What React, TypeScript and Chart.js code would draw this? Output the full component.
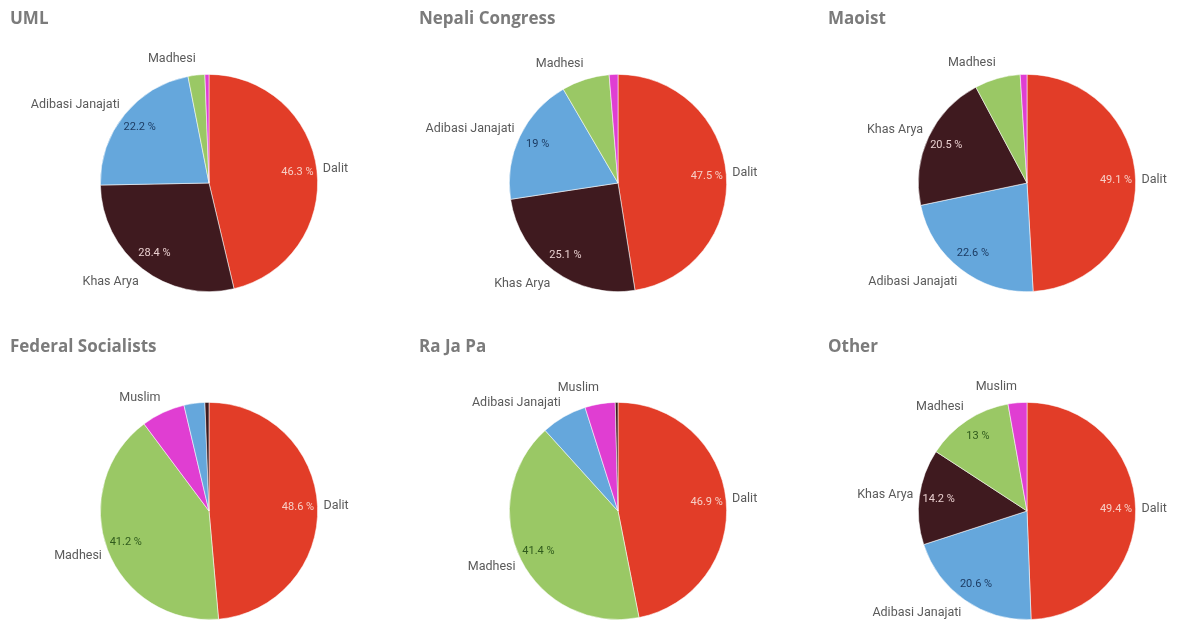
import React, { useEffect, useRef } from "react";
import { Chart, registerables } from "chart.js";

Chart.register(...registerables);

// ---- data ----
const partyTitles = ["UML", "Nepali Congress", "Maoist", "Federal Socialists", "Ra Ja Pa", "Other"];

const umlGroups = ["Dalit", "Khas Arya", "Adibasi Janajati", "Madhesi", "Muslim"];
const umlValues = [46.3, 28.4, 22.2, 2.5, 0.6];

const ncGroups = ["Dalit", "Khas Arya", "Adibasi Janajati", "Madhesi", "Muslim"];
const ncValues = [47.5, 25.1, 19, 7.1, 1.3];

const maoistGroups = ["Dalit", "Adibasi Janajati", "Khas Arya", "Madhesi", "Muslim"];
const maoistValues = [49.1, 22.6, 20.5, 6.8, 1.0];

const fsGroups = ["Dalit", "Madhesi", "Muslim", "Adibasi Janajati", "Khas Arya"];
const fsValues = [48.6, 41.2, 6.5, 3.1, 0.6];

const rjpGroups = ["Dalit", "Madhesi", "Adibasi Janajati", "Muslim", "Khas Arya"];
const rjpValues = [46.9, 41.4, 6.8, 4.5, 0.4];

const otherGroups = ["Dalit", "Adibasi Janajati", "Khas Arya", "Madhesi", "Muslim"];
const otherValues = [49.4, 20.6, 14.2, 13, 2.8];

const groupColors: Record<string, string> = {
  Dalit: "#e23d28",
  "Khas Arya": "#3f1a1f",
  "Adibasi Janajati": "#65a7dc",
  Madhesi: "#9ac865",
  Muslim: "#e03ed2",
};
const pctTextColors: Record<string, string> = {
  Dalit: "#f7cfc6",
  "Khas Arya": "#e9cfcf",
  "Adibasi Janajati": "#1d3c63",
  Madhesi: "#2f5a1c",
  Muslim: "#ffffff",
};

const panels = [
  { groups: umlGroups, values: umlValues },
  { groups: ncGroups, values: ncValues },
  { groups: maoistGroups, values: maoistValues },
  { groups: fsGroups, values: fsValues },
  { groups: rjpGroups, values: rjpValues },
  { groups: otherGroups, values: otherValues },
];

const PANEL_W = 409;
const PANEL_H = 310;
const ROW_STEP = 328;

const labelPlugin = {
  id: "pieLabels",
  afterDatasetsDraw(chart: any) {
    const ctx = chart.ctx as CanvasRenderingContext2D;
    const meta = chart.getDatasetMeta(0);
    const ds = chart.data.datasets[0];
    const labels = chart.data.labels as string[];
    const total = (ds.data as number[]).reduce((a, b) => a + b, 0);
    const placed: { x1: number; x2: number; y1: number; y2: number }[] = [];
    ctx.save();
    ctx.textBaseline = "middle";
    meta.data.forEach((arc: any, i: number) => {
      const p = arc.getProps(["x", "y", "startAngle", "endAngle", "outerRadius"], true);
      const mid = (p.startAngle + p.endAngle) / 2;
      const c = Math.cos(mid);
      const s = Math.sin(mid);
      const r = p.outerRadius;
      const v = ds.data[i] as number;
      const name = labels[i];
      // outside category label
      ctx.font = '12.5px Roboto, "Liberation Sans", sans-serif';
      const w = ctx.measureText(name).width;
      const ax = p.x + c * (r + 6);
      const ay = p.y + s * (r + 16);
      const left = c >= 0;
      const box = {
        x1: left ? ax : ax - w,
        x2: left ? ax + w : ax,
        y1: ay - 6.5,
        y2: ay + 6.5,
      };
      const hit = placed.some(
        (b) => box.x1 < b.x2 && box.x2 > b.x1 && box.y1 < b.y2 && box.y2 > b.y1
      );
      if (!hit) {
        placed.push(box);
        ctx.fillStyle = "#5a5a5a";
        ctx.textAlign = left ? "left" : "right";
        ctx.fillText(name, ax, ay);
      }
      // inside percentage label
      const pct = (v / total) * 100;
      if (pct >= 10) {
        const txt = (Math.round(pct * 10) / 10).toString() + " %";
        ctx.font = '11px Roboto, "Liberation Sans", sans-serif';
        ctx.fillStyle = pctTextColors[name] || "#fff";
        ctx.textAlign = "center";
        ctx.fillText(txt, p.x + c * r * 0.82, p.y + s * r * 0.82);
      }
    });
    ctx.restore();
  },
};

function PiePanel({ index }: { index: number }) {
  const ref = useRef<HTMLCanvasElement>(null);
  const panel = panels[index];
  useEffect(() => {
    if (!ref.current) return;
    const chart = new Chart(ref.current, {
      type: "pie",
      data: {
        labels: panel.groups,
        datasets: [
          {
            data: panel.values,
            backgroundColor: panel.groups.map((g) => groupColors[g]),
            borderWidth: 0.75,
            borderColor: "rgba(255,255,255,0.7)",
          },
        ],
      },
      options: {
        responsive: false,
        animation: false,
        layout: { padding: { left: 100, right: 91, top: 74, bottom: 18 } },
        plugins: {
          legend: { display: false },
          tooltip: { enabled: false },
        },
      },
      plugins: [labelPlugin],
    });
    return () => chart.destroy();
  }, [index]);
  const col = index % 3;
  const row = Math.floor(index / 3);
  return (
    <>
      <canvas
        ref={ref}
        width={PANEL_W}
        height={PANEL_H}
        style={{
          position: "absolute",
          left: col * PANEL_W,
          top: row * ROW_STEP,
          width: PANEL_W,
          height: PANEL_H,
        }}
      />
      <div
        style={{
          position: "absolute",
          left: col * PANEL_W + 10,
          top: row * ROW_STEP + 6,
          fontFamily: '"Open Sans", sans-serif',
          fontWeight: 700,
          fontSize: 17,
          lineHeight: "24px",
          color: "#7b7b7b",
          whiteSpace: "nowrap",
        }}
      >
        {partyTitles[index]}
      </div>
    </>
  );
}

export default function App() {
  return (
    <div
      style={{
        position: "absolute",
        left: 0,
        top: 0,
        width: 1178,
        height: 621,
        background: "#ffffff",
        overflow: "hidden",
      }}
    >
      {panels.map((_, i) => (
        <PiePanel key={i} index={i} />
      ))}
    </div>
  );
}
